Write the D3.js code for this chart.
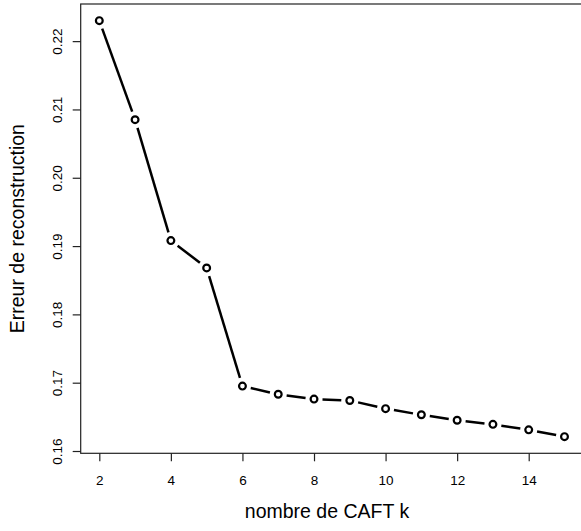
<!DOCTYPE html>
<html>
<head>
<meta charset="utf-8">
<script src="https://cdn.jsdelivr.net/npm/d3@7"></script>
<style>
  body { margin: 0; background: #fff; }
  text { font-family: "Liberation Sans", Arial, sans-serif; fill: #000; }
</style>
</head>
<body>
<div id="chart"></div>
<script>
// nombre de CAFT k
const kValues = [2, 3, 4, 5, 6, 7, 8, 9, 10, 11, 12, 13, 14, 15];
// erreur de reconstruction
const errValues = [0.2230, 0.2085, 0.1908, 0.1868, 0.1695, 0.1683, 0.1676, 0.1674, 0.1662, 0.1653, 0.1645, 0.1639, 0.1631, 0.1621];
const xTicks = [2, 4, 6, 8, 10, 12, 14];
const yTicks = [0.16, 0.17, 0.18, 0.19, 0.20, 0.21, 0.22];

const W = 581, H = 531;
const plot = {left: 80.7, top: 4, right: 583.1, bottom: 453.3};

const data = kValues.map((k, i) => ({k: k, err: errValues[i]}));

// R-style 4% padding of the axis ranges
const pad = function(ext) {
  const p = (ext[1] - ext[0]) * 0.04;
  return [ext[0] - p, ext[1] + p];
};

const x = d3.scaleLinear()
  .domain(pad(d3.extent(kValues)))
  .range([plot.left, plot.right]);

const y = d3.scaleLinear()
  .domain(pad(d3.extent(errValues)))
  .range([plot.bottom, plot.top]);

const svg = d3.select("#chart")
  .append("svg")
    .attr("width", W)
    .attr("height", H);

// box
svg.append("rect")
  .attr("x", plot.left)
  .attr("y", plot.top)
  .attr("width", plot.right - plot.left)
  .attr("height", plot.bottom - plot.top)
  .attr("fill", "none")
  .attr("stroke", "#222")
  .attr("stroke-width", 1.2);

// x axis
const gx = svg.append("g")
  .attr("transform", `translate(0, ${plot.bottom})`)
  .call(d3.axisBottom(x).tickValues(xTicks).tickSize(8).tickSizeOuter(0).tickFormat(d3.format("d")));
gx.select(".domain").remove();
gx.selectAll(".tick line").attr("stroke", "#222").attr("stroke-width", 1.2);
gx.selectAll(".tick text")
  .attr("y", 31.7)
  .attr("dy", 0)
  .attr("font-size", 13.5)
  .style("font-family", "Liberation Sans, Arial, sans-serif");

// y axis
const gy = svg.append("g")
  .attr("transform", `translate(${plot.left}, 0)`)
  .call(d3.axisLeft(y).tickValues(yTicks).tickSize(8).tickSizeOuter(0).tickFormat(d3.format(".2f")));
gy.select(".domain").remove();
gy.selectAll(".tick line").attr("stroke", "#222").attr("stroke-width", 1.2);
gy.selectAll(".tick text")
  .attr("transform", "rotate(-90)")
  .attr("x", 0)
  .attr("y", -19.2)
  .attr("dy", 0)
  .attr("text-anchor", "middle")
  .attr("font-size", 13.5)
  .style("font-family", "Liberation Sans, Arial, sans-serif");

// axis titles
svg.append("text")
  .attr("x", 327)
  .attr("y", 518)
  .attr("text-anchor", "middle")
  .attr("font-size", 19.5)
  .text("nombre de CAFT k");

svg.append("text")
  .attr("transform", `translate(24, ${(plot.top + plot.bottom) / 2}) rotate(-90)`)
  .attr("text-anchor", "middle")
  .attr("font-size", 19.5)
  .text("Erreur de reconstruction");

// type = "b": segments that stop short of the points
const gap = 8.5;
const segs = d3.pairs(data).map(function(p) {
  const x1 = x(p[0].k), y1 = y(p[0].err), x2 = x(p[1].k), y2 = y(p[1].err);
  const len = Math.hypot(x2 - x1, y2 - y1);
  const ux = (x2 - x1) / len, uy = (y2 - y1) / len;
  return {x1: x1 + ux * gap, y1: y1 + uy * gap, x2: x2 - ux * gap, y2: y2 - uy * gap, ok: len > 2 * gap};
}).filter(s => s.ok);

svg.selectAll("seg")
  .data(segs)
  .enter()
  .append("line")
    .attr("x1", d => d.x1)
    .attr("y1", d => d.y1)
    .attr("x2", d => d.x2)
    .attr("y2", d => d.y2)
    .attr("stroke", "#000")
    .attr("stroke-width", 2.5);

svg.selectAll("pt")
  .data(data)
  .enter()
  .append("circle")
    .attr("cx", d => x(d.k))
    .attr("cy", d => y(d.err))
    .attr("r", 3.4)
    .attr("fill", "none")
    .attr("stroke", "#000")
    .attr("stroke-width", 2.2);
</script>
</body>
</html>
